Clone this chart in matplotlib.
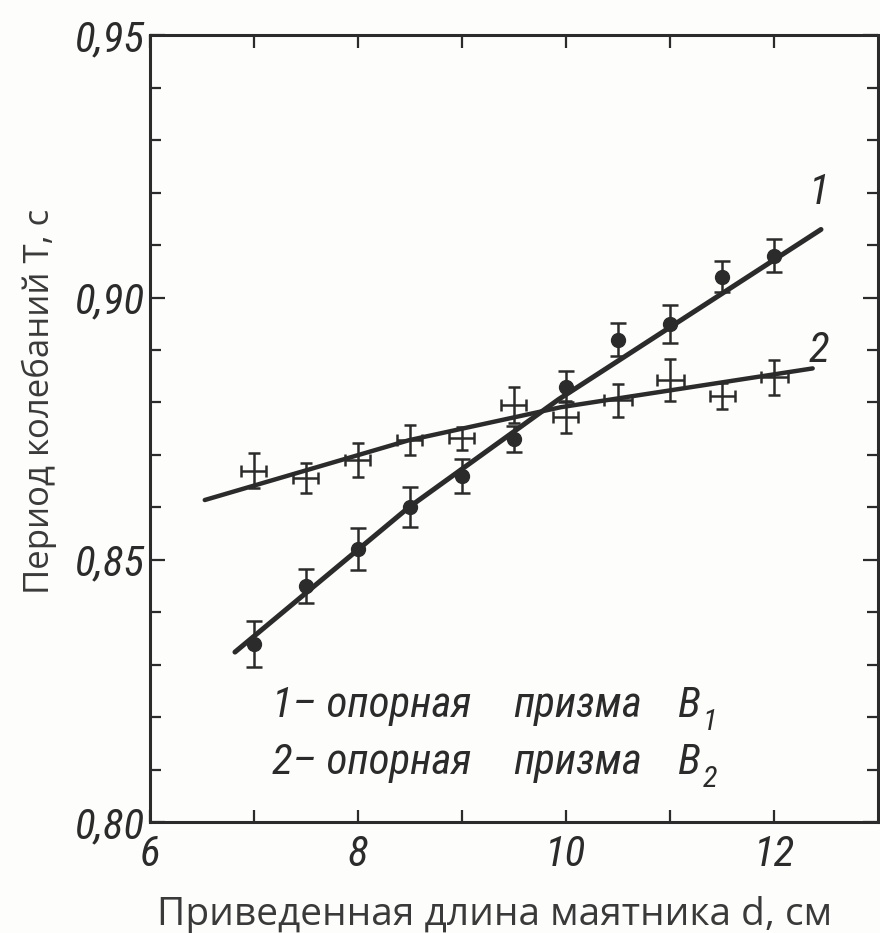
import matplotlib
matplotlib.use("Agg")
import matplotlib.pyplot as plt
from matplotlib import font_manager as fm
from matplotlib.ticker import FixedLocator, FuncFormatter

# ---------------- data ----------------
x_vals = [7.0, 7.5, 8.0, 8.5, 9.0, 9.5, 10.0, 10.5, 11.0, 11.5, 12.0]
s1_y = [0.834, 0.845, 0.852, 0.860, 0.866, 0.873, 0.883, 0.892, 0.895, 0.904, 0.908]
s1_yerr = [0.0044, 0.0033, 0.0040, 0.0038, 0.0032, 0.0025, 0.0030, 0.0032, 0.0036, 0.0030, 0.0032]
s2_y = [0.867, 0.8656, 0.869, 0.8728, 0.8732, 0.8795, 0.8772, 0.8804, 0.8842, 0.8813, 0.8848]
s2_yerr = [0.0033, 0.0029, 0.0033, 0.0029, 0.0022, 0.0035, 0.0030, 0.0032, 0.0040, 0.0025, 0.0033]
s2_xerr = [0.12, 0.12, 0.12, 0.12, 0.12, 0.12, 0.12, 0.13, 0.13, 0.12, 0.13]

fit1_x = [6.82, 8.49, 9.93, 12.45]
fit1_y = [0.8324, 0.8600, 0.8806, 0.9130]
fit2_x = [6.53, 8.49, 9.95, 12.37]
fit2_y = [0.8614, 0.8728, 0.8791, 0.8865]

x_major = [6, 8, 10, 12]
x_minor = [7, 9, 11]
y_major = [0.80, 0.85, 0.90, 0.95]
y_minor = [0.81, 0.82, 0.83, 0.84, 0.86, 0.87, 0.88, 0.89, 0.91, 0.92, 0.93, 0.94]

xlabel = "Приведенная длина маятника d, см"
ylabel = "Период колебаний Т, с"
legend_rows = [("1– опорная", "призма", "B", "1"), ("2– опорная", "призма", "B", "2")]
curve_labels = ["1", "2"]

# ---------------- fonts ----------------
names = {f.name for f in fm.fontManager.ttflist}
narrow = next((n for n in ["Roboto Condensed", "Liberation Sans Narrow",
                            "DejaVu Sans Condensed"] if n in names), "DejaVu Sans")
is_narrow = narrow != "DejaVu Sans"
tick_fs = 31 if is_narrow else 25
leg_fs = 31 if is_narrow else 25

ink = "#2b2b2b"
bg = "#fdfdfb"

fig = plt.figure(figsize=(8.8, 9.33), dpi=100, facecolor=bg)
ax = fig.add_axes([0.170, 0.119, 0.828, 0.843], facecolor=bg)

ax.set_xlim(6, 13)
ax.set_ylim(0.80, 0.95)

# fitted curves
ax.plot(fit1_x, fit1_y, color=ink, lw=3.6, solid_capstyle="round", zorder=2)
ax.plot(fit2_x, fit2_y, color=ink, lw=3.2, solid_capstyle="round", zorder=2)

# series 1: filled circles with vertical error bars
ax.errorbar(x_vals, s1_y, yerr=s1_yerr, fmt="o", color=ink, ms=10,
            elinewidth=1.8, capsize=5.5, capthick=1.8, zorder=3)
# series 2: crosses (x and y error bars with caps)
ax.errorbar(x_vals, s2_y, yerr=s2_yerr, xerr=s2_xerr, fmt="none", ecolor=ink,
            elinewidth=1.8, capsize=4.5, capthick=1.8, zorder=3)

# ticks
ax.xaxis.set_major_locator(FixedLocator(x_major))
ax.xaxis.set_minor_locator(FixedLocator(x_minor))
ax.yaxis.set_major_locator(FixedLocator(y_major))
ax.yaxis.set_minor_locator(FixedLocator(y_minor))
ax.xaxis.set_major_formatter(FuncFormatter(lambda v, p: f"{v:g}"))
ax.yaxis.set_major_formatter(FuncFormatter(lambda v, p: f"{v:.2f}".replace(".", ",")))
ax.tick_params(axis="both", which="both", direction="in", top=True, right=True,
               color=ink, width=1.6)
ax.tick_params(axis="x", which="both", length=9, pad=9)
ax.tick_params(axis="y", which="major", length=11, pad=3)
ax.tick_params(axis="y", which="minor", length=8)
for lab in ax.get_xticklabels() + ax.get_yticklabels():
    lab.set_fontfamily(narrow)
    lab.set_fontstyle("italic")
    lab.set_fontsize(tick_fs)
    lab.set_color(ink)
for s in ax.spines.values():
    s.set_color(ink)
    s.set_linewidth(2.2)

ax.set_xlabel(xlabel, fontfamily="Open Sans", fontsize=28, color="#3a3a3a",
              va="center", ha="center")
ax.xaxis.set_label_coords(0.474, -0.118)
ax.set_ylabel(ylabel, fontfamily="Open Sans", fontsize=25, color="#3a3a3a",
              va="center", ha="center")
ax.yaxis.set_label_coords(-0.151, 0.535)

# curve labels
ax.text(12.33, 0.9162, curve_labels[0], fontfamily=narrow, style="italic",
        fontsize=leg_fs, color=ink, ha="left", va="bottom")
ax.text(12.33, 0.8860, curve_labels[1], fontfamily=narrow, style="italic",
        fontsize=leg_fs, color=ink, ha="left", va="bottom")

# legend rows
row_y = [0.8200, 0.8092]
for (a, b, c, d), yy in zip(legend_rows, row_y):
    ax.text(7.18, yy, a, fontfamily=narrow, style="italic", fontsize=leg_fs, color=ink,
            ha="left", va="baseline")
    ax.text(9.49, yy, b, fontfamily=narrow, style="italic", fontsize=leg_fs, color=ink,
            ha="left", va="baseline")
    ax.text(11.08, yy, c, fontfamily=narrow, style="italic", fontsize=leg_fs, color=ink,
            ha="left", va="baseline")
    ax.text(11.31, yy - 0.0025, d, fontfamily=narrow, style="italic", fontsize=leg_fs * 0.7,
            color=ink, ha="left", va="baseline")

fig.savefig("out.png", dpi=100, facecolor=bg)
